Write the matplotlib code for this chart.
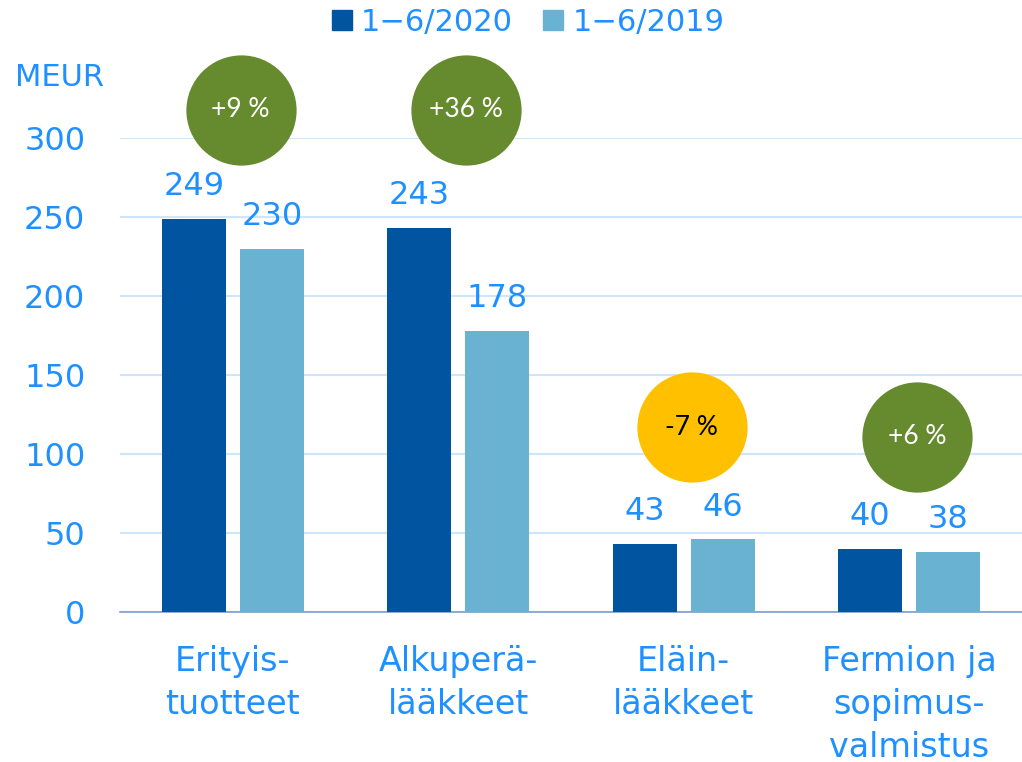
import matplotlib
matplotlib.use("Agg")
import matplotlib.pyplot as plt
import numpy as np
from matplotlib.patches import Patch

categories = ["Erityis-\ntuotteet", "Alkuperä-\nlääkkeet", "Eläin-\nlääkkeet", "Fermion ja\nsopimus-\nvalmistus"]
series_names = ["1\u22126/2020", "1\u22126/2019"]
values_2020 = [249, 243, 43, 40]
values_2019 = [230, 178, 46, 38]
changes = ["+9 %", "+36 %", "-7 %", "+6 %"]
change_y = [318, 318, 117, 111]
yticks = [0, 50, 100, 150, 200, 250, 300]

c2020 = "#0054A0"
c2019 = "#6AB2D2"
txt = "#1E90FF"
green = "#668B2F"
yellow = "#FFC000"

plt.rcParams['font.family'] = ['DejaVu Sans']
fig = plt.figure(figsize=(10.22, 7.62), dpi=100)
ax = fig.add_axes([120/1022, 1-612/762, 902/1022, (612-138)/762*1.0])

x = np.arange(len(categories))
w = 0.284
off = 0.173
b1 = ax.bar(x - off, values_2020, w, color=c2020, zorder=3)
b2 = ax.bar(x + off, values_2019, w, color=c2019, zorder=3)

for bars, vals in ((b1, values_2020), (b2, values_2019)):
    for r, v in zip(bars, vals):
        ax.annotate(str(v), (r.get_x() + r.get_width()/2, v), xytext=(0, 12),
                    textcoords="offset points", ha="center", va="bottom",
                    fontsize=23, color=txt)

ax.set_xlim(-0.5, 3.5)
ax.set_ylim(0, 300)
ax.set_yticks(yticks)
ax.set_yticklabels([str(t) for t in yticks], fontsize=23, color=txt)
ax.tick_params(axis="y", length=0, pad=25)
ax.set_xticks(x)
ax.set_xticklabels(categories, fontsize=24, color=txt, linespacing=1.37)
ax.tick_params(axis="x", length=0, pad=24)
ax.grid(axis="y", color="#CDE6FB", linewidth=1.5, zorder=0)
for s in ["top", "right", "left"]:
    ax.spines[s].set_visible(False)
ax.spines["bottom"].set_color("#7E9CCB")
ax.spines["bottom"].set_linewidth(1.2)

# change circles
for i, (lab, cy) in enumerate(zip(changes, change_y)):
    col = yellow if lab.startswith("-") else green
    tc = "black" if col == yellow else "white"
    cx = i + 0.035
    ax.scatter([cx], [cy], s=6300, color=col, zorder=5, clip_on=False, linewidths=0)
    ax.text(cx, cy, lab, ha="center", va="center", fontsize=19, color=tc,
            zorder=6, family=["Lato", "DejaVu Sans"])

fig.text(60/1022, 1-78/762, "MEUR", ha="center", va="center", fontsize=22, color=txt)

handles = [Patch(color=c2020), Patch(color=c2019)]
leg = fig.legend(handles, series_names, loc="center", bbox_to_anchor=(528/1022, 1-22/762),
                 ncol=2, frameon=False, fontsize=22, handlelength=0.65, handleheight=0.65,
                 handletextpad=0.3, columnspacing=1.0)
for t in leg.get_texts():
    t.set_color(txt)

fig.savefig("out.png", dpi=100)
